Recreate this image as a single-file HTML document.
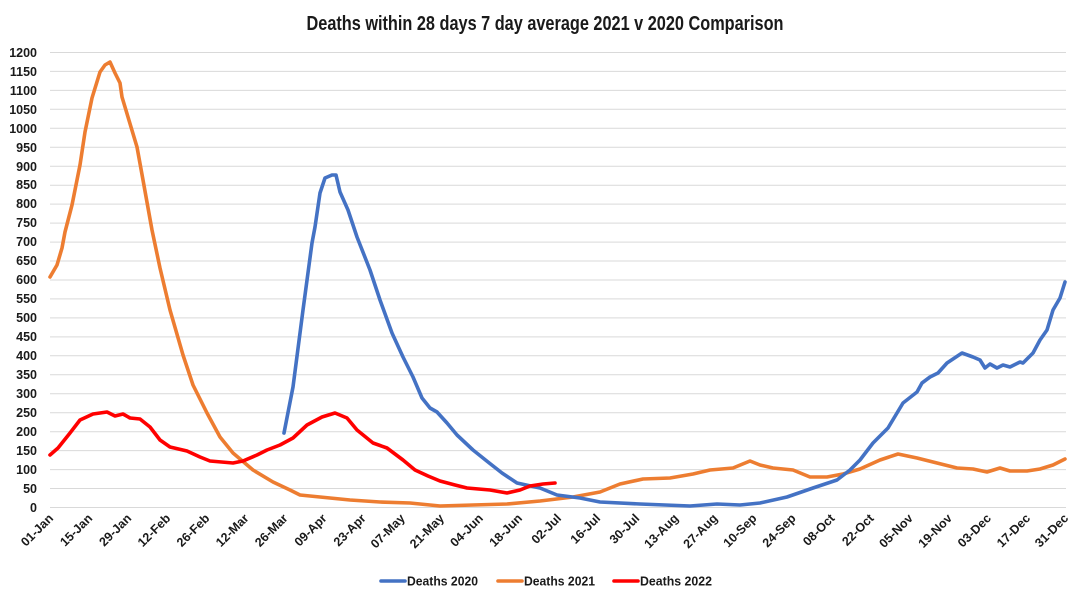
<!DOCTYPE html>
<html>
<head>
<meta charset="utf-8">
<style>
  html, body { margin: 0; padding: 0; background: #ffffff; }
  svg { display: block; }
  text { font-family: "Liberation Sans", Arial, sans-serif; font-weight: bold; fill: #1a1a1a; }
</style>
</head>
<body>
<svg width="1090" height="600" viewBox="0 0 1090 600" xmlns="http://www.w3.org/2000/svg">
  <rect width="1090" height="600" fill="#ffffff"/>
  <!-- Title -->
  <text x="545" y="30" font-size="20" text-anchor="middle" textLength="477" lengthAdjust="spacingAndGlyphs">Deaths within 28 days 7 day average 2021 v 2020 Comparison</text>

  <!-- Gridlines -->
  <g stroke="#d9d9d9" stroke-width="1">
    <line x1="50" x2="1066" y1="507.5" y2="507.5"/>
    <line x1="50" x2="1066" y1="488.5" y2="488.5"/>
    <line x1="50" x2="1066" y1="469.6" y2="469.6"/>
    <line x1="50" x2="1066" y1="450.6" y2="450.6"/>
    <line x1="50" x2="1066" y1="431.7" y2="431.7"/>
    <line x1="50" x2="1066" y1="412.7" y2="412.7"/>
    <line x1="50" x2="1066" y1="393.7" y2="393.7"/>
    <line x1="50" x2="1066" y1="374.8" y2="374.8"/>
    <line x1="50" x2="1066" y1="355.8" y2="355.8"/>
    <line x1="50" x2="1066" y1="336.9" y2="336.9"/>
    <line x1="50" x2="1066" y1="317.9" y2="317.9"/>
    <line x1="50" x2="1066" y1="298.9" y2="298.9"/>
    <line x1="50" x2="1066" y1="280.0" y2="280.0"/>
    <line x1="50" x2="1066" y1="261.0" y2="261.0"/>
    <line x1="50" x2="1066" y1="242.1" y2="242.1"/>
    <line x1="50" x2="1066" y1="223.1" y2="223.1"/>
    <line x1="50" x2="1066" y1="204.1" y2="204.1"/>
    <line x1="50" x2="1066" y1="185.2" y2="185.2"/>
    <line x1="50" x2="1066" y1="166.2" y2="166.2"/>
    <line x1="50" x2="1066" y1="147.3" y2="147.3"/>
    <line x1="50" x2="1066" y1="128.3" y2="128.3"/>
    <line x1="50" x2="1066" y1="109.3" y2="109.3"/>
    <line x1="50" x2="1066" y1="90.4" y2="90.4"/>
    <line x1="50" x2="1066" y1="71.4" y2="71.4"/>
    <line x1="50" x2="1066" y1="52.5" y2="52.5"/>
  </g>

  <!-- Y labels -->
  <g font-size="12.5" text-anchor="end">
    <text x="37" y="512">0</text>
    <text x="37" y="493">50</text>
    <text x="37" y="474">100</text>
    <text x="37" y="455">150</text>
    <text x="37" y="436">200</text>
    <text x="37" y="417">250</text>
    <text x="37" y="398">300</text>
    <text x="37" y="379">350</text>
    <text x="37" y="360">400</text>
    <text x="37" y="341">450</text>
    <text x="37" y="322">500</text>
    <text x="37" y="303">550</text>
    <text x="37" y="284">600</text>
    <text x="37" y="265">650</text>
    <text x="37" y="246">700</text>
    <text x="37" y="227">750</text>
    <text x="37" y="208">800</text>
    <text x="37" y="189">850</text>
    <text x="37" y="171">900</text>
    <text x="37" y="152">950</text>
    <text x="37" y="133">1000</text>
    <text x="37" y="114">1050</text>
    <text x="37" y="95">1100</text>
    <text x="37" y="76">1150</text>
    <text x="37" y="57">1200</text>
  </g>

  <!-- X labels (rotated) -->
  <g font-size="12.5" text-anchor="end">
    <text transform="translate(54,519) rotate(-45)">01-Jan</text>
    <text transform="translate(93.1,519) rotate(-45)">15-Jan</text>
    <text transform="translate(132.2,519) rotate(-45)">29-Jan</text>
    <text transform="translate(171.2,519) rotate(-45)">12-Feb</text>
    <text transform="translate(210.3,519) rotate(-45)">26-Feb</text>
    <text transform="translate(249.4,519) rotate(-45)">12-Mar</text>
    <text transform="translate(288.5,519) rotate(-45)">26-Mar</text>
    <text transform="translate(327.5,519) rotate(-45)">09-Apr</text>
    <text transform="translate(366.6,519) rotate(-45)">23-Apr</text>
    <text transform="translate(405.7,519) rotate(-45)">07-May</text>
    <text transform="translate(444.8,519) rotate(-45)">21-May</text>
    <text transform="translate(483.8,519) rotate(-45)">04-Jun</text>
    <text transform="translate(522.9,519) rotate(-45)">18-Jun</text>
    <text transform="translate(562,519) rotate(-45)">02-Jul</text>
    <text transform="translate(601.1,519) rotate(-45)">16-Jul</text>
    <text transform="translate(640.2,519) rotate(-45)">30-Jul</text>
    <text transform="translate(679.2,519) rotate(-45)">13-Aug</text>
    <text transform="translate(718.3,519) rotate(-45)">27-Aug</text>
    <text transform="translate(757.4,519) rotate(-45)">10-Sep</text>
    <text transform="translate(796.5,519) rotate(-45)">24-Sep</text>
    <text transform="translate(835.5,519) rotate(-45)">08-Oct</text>
    <text transform="translate(874.6,519) rotate(-45)">22-Oct</text>
    <text transform="translate(913.7,519) rotate(-45)">05-Nov</text>
    <text transform="translate(952.8,519) rotate(-45)">19-Nov</text>
    <text transform="translate(991.8,519) rotate(-45)">03-Dec</text>
    <text transform="translate(1030.9,519) rotate(-45)">17-Dec</text>
    <text transform="translate(1069,519) rotate(-45)">31-Dec</text>
  </g>

  <!-- Series -->
  <g fill="none" stroke-width="3.6" stroke-linejoin="round" stroke-linecap="round">
    <!-- 2021 orange -->
    <polyline stroke="#ed7d31" points="50,277 57,265 62,248 65,232 72,205 80,165 85,132 92,98 100,72 105,65 110,62 115,73 120,83 122,97 128,117 137,147 143,180 152,230 160,268 170,310 183,355 193,385 207,413 220,437 233,453 253,470 273,482 290,490 300,495 320,497 350,500 380,502 410,503 440,506 473,505 507,504 540,501 573,497 600,492 620,484 643,479 670,478 693,474 710,470 733,468 750,461 760,465 773,468 793,470 810,477 827,477 843,474 860,469 880,460 898,454 917,458 933,462 957,468 973,469 987,472 1000,468 1010,471 1027,471 1040,469 1053,465 1065,459"/>
    <!-- 2020 blue -->
    <polyline stroke="#4472c4" points="284,433 293,387 303,310 312,243 315,227 320,193 325,178 332,175 336,175 340,192 348,210 357,237 370,270 380,300 392,333 403,357 413,377 422,398 430,408 437,412 447,423 457,435 473,450 488,462 502,473 517,483 540,488 557,495 580,498 600,502 640,504 690,506 717,504 740,505 760,503 787,497 813,488 837,480 850,470 860,460 873,443 888,428 897,413 903,403 917,392 922,383 930,377 938,373 947,363 962,353 973,357 980,360 985,368 990,364 997,368 1003,365 1010,367 1020,362 1023,363 1033,353 1040,340 1047,330 1053,310 1060,298 1065,282"/>
    <!-- 2022 red -->
    <polyline stroke="#ff0000" points="50,455 58,448 70,433 80,420 93,414 107,412 115,416 123,414 130,418 140,419 150,427 160,440 170,447 187,451 200,457 210,461 233,463 243,461 257,455 267,450 280,445 293,438 307,425 322,417 335,413 347,418 357,430 373,443 387,448 403,460 415,470 428,476 440,481 455,485 467,488 490,490 507,493 520,490 530,486 543,484 555,483"/>
  </g>

  <!-- Legend -->
  <g stroke-width="3.6" stroke-linecap="round">
    <line x1="381" x2="405" y1="581" y2="581" stroke="#4472c4"/>
    <line x1="498" x2="522" y1="581" y2="581" stroke="#ed7d31"/>
    <line x1="614" x2="638" y1="581" y2="581" stroke="#ff0000"/>
  </g>
  <g font-size="12.5">
    <text x="407" y="585.5" textLength="71" lengthAdjust="spacingAndGlyphs">Deaths 2020</text>
    <text x="524" y="585.5" textLength="71" lengthAdjust="spacingAndGlyphs">Deaths 2021</text>
    <text x="640" y="585.5" textLength="72" lengthAdjust="spacingAndGlyphs">Deaths 2022</text>
  </g>
</svg>
</body>
</html>
